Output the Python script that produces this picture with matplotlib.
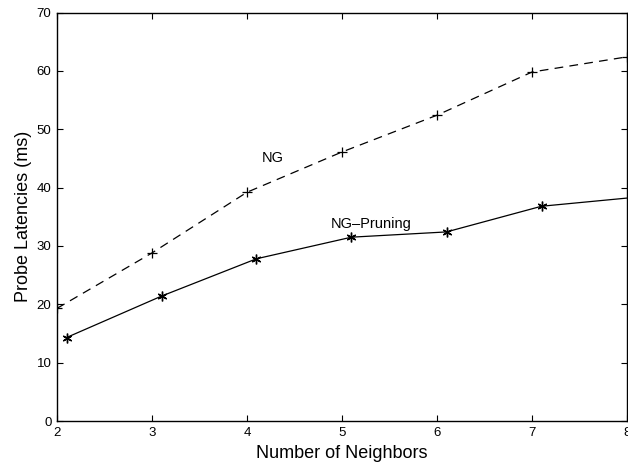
import numpy as np
import matplotlib
matplotlib.use('Agg')
import matplotlib.pyplot as plt

plt.rcParams['font.family'] = ['Liberation Sans', 'DejaVu Sans']

ng_x = [2, 3, 4, 5, 6, 7, 8]
ng_y = [19.3, 28.8, 39.2, 46.1, 52.4, 59.8, 62.4]

prun_x = [2.1, 3.1, 4.1, 5.1, 6.1, 7.1, 8]
prun_y = [14.3, 21.4, 27.8, 31.5, 32.4, 36.8, 38.2]
prun_marks = [0, 1, 2, 3, 4, 5]

fig = plt.figure(figsize=(6.28, 4.66), dpi=100)
ax = fig.add_axes([57/628, 45/466, 570/628, 408.5/466])

ax.plot(ng_x, ng_y, color='black', linestyle=(0, (7, 5)), linewidth=0.9,
        marker='+', markersize=7, markeredgewidth=0.9)
# matlab style asterisk marker
ax.plot(prun_x, prun_y, color='black', linestyle='-', linewidth=0.9,
        marker=(6, 2, 0), markersize=7, markeredgewidth=1.0, markevery=prun_marks)

ax.text(4.15, 44.3, 'NG', fontsize=10.5)
ax.text(4.88, 33.1, 'NG\u2013Pruning', fontsize=10.5)

ax.set_xlim(2, 8)
ax.set_ylim(0, 70)
ax.set_xticks(range(2, 9))
ax.set_yticks(range(0, 71, 10))
ax.tick_params(direction='in', top=True, right=True, length=4, width=0.8,
               labelsize=9.5, pad=4)
for s in ax.spines.values():
    s.set_linewidth(1.0)

ax.set_xlabel('Number of Neighbors', fontsize=13, labelpad=5)
ax.set_ylabel('Probe Latencies (ms)', fontsize=13, labelpad=3)

fig.savefig('out.png', dpi=100)
